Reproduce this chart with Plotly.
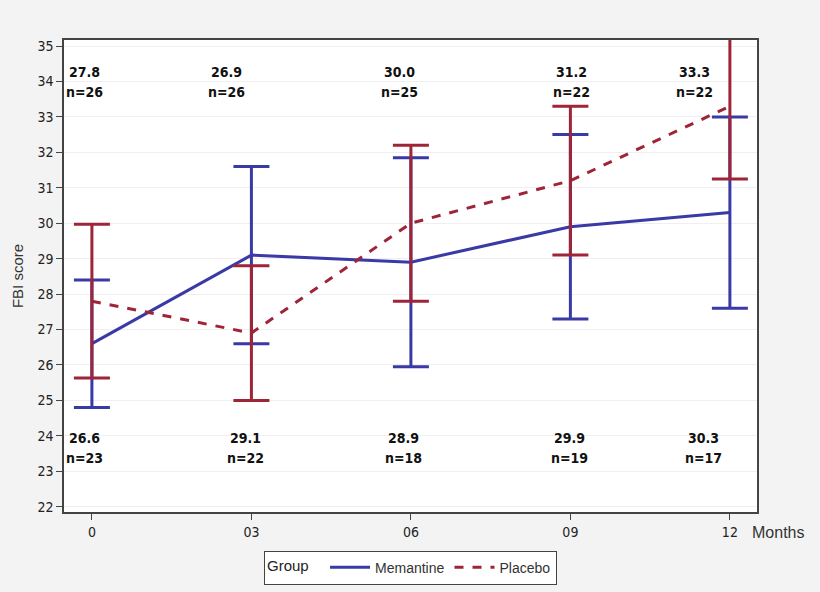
import plotly.graph_objects as go

months = ["0", "03", "06", "09", "12"]
mem_mean = [26.6, 29.1, 28.9, 29.9, 30.3]
mem_err = [1.8, 2.5, 2.95, 2.6, 2.7]
mem_n = [23, 22, 18, 19, 17]
pla_mean = [27.8, 26.9, 30.0, 31.2, 33.3]
pla_err = [2.17, 1.9, 2.2, 2.1, 2.05]
pla_n = [26, 26, 25, 22, 22]
y_ticks = list(range(22, 36))

BLUE = "#3a3aa6"
RED = "#9e2438"
xs = list(range(len(months)))

fig = go.Figure()
fig.add_trace(go.Scatter(
    x=xs, y=mem_mean, mode="lines", name="Memantine",
    line=dict(color=BLUE, width=3),
    error_y=dict(type="data", array=mem_err, color=BLUE, thickness=3, width=18),
))
fig.add_trace(go.Scatter(
    x=xs, y=pla_mean, mode="lines", name="Placebo",
    line=dict(color=RED, width=3, dash="dash"),
    error_y=dict(type="data", array=pla_err, color=RED, thickness=3, width=18),
))

ann_font = dict(family="DejaVu Sans Condensed, Liberation Sans Narrow, Arial Narrow, sans-serif",
                size=14, color="#111")
top_off = [-7, -25, -11, 1, -35]
bot_off = [-7, -6, -7, -1, -26]
annotations = []
for i in xs:
    annotations.append(dict(x=i, y=0.953, xref="x", yref="paper", text=f"<b>{pla_mean[i]:.1f}</b>",
                            showarrow=False, xshift=top_off[i], font=ann_font))
    annotations.append(dict(x=i, y=0.911, xref="x", yref="paper", text=f"<b>n={pla_n[i]}</b>",
                            showarrow=False, xshift=top_off[i], font=ann_font))
    annotations.append(dict(x=i, y=0.1356, xref="x", yref="paper", text=f"<b>{mem_mean[i]:.1f}</b>",
                            showarrow=False, xshift=bot_off[i], font=ann_font))
    annotations.append(dict(x=i, y=0.0932, xref="x", yref="paper", text=f"<b>n={mem_n[i]}</b>",
                            showarrow=False, xshift=bot_off[i], font=ann_font))
annotations.append(dict(x=1.03, y=-0.044, xref="paper", yref="paper", text="Months",
                        showarrow=False, xanchor="center", yanchor="middle",
                        font=dict(family="Liberation Sans, Arial, sans-serif", size=16, color="#333")))

tick_font = dict(family="DejaVu Sans Condensed, Liberation Sans Narrow, Arial Narrow, sans-serif",
                 size=14, color="#222")

fig.update_layout(
    width=820, height=592,
    margin=dict(l=64, r=63, t=40, b=80, autoexpand=False),
    paper_bgcolor="#f3f3f3",
    plot_bgcolor="white",
    showlegend=True,
    legend=dict(orientation="h", x=0.5, xanchor="center", xref="paper",
                y=0.07, yanchor="top", yref="container",
                title=dict(text="Group  ", side="left",
                           font=dict(family="Liberation Sans, Arial, sans-serif", size=15, color="#222")),
                bgcolor="white", bordercolor="#444", borderwidth=1,
                font=dict(family="Liberation Sans, Arial, sans-serif", size=14, color="#333"),
                itemwidth=40, tracegroupgap=0),
    annotations=annotations,
    xaxis=dict(range=[-0.175, 4.17], tickvals=xs, ticktext=months, showgrid=False,
               zeroline=False, showline=True, linecolor="#444", linewidth=1.5, mirror=True,
               ticks="outside", ticklen=6, tickcolor="#444", tickfont=tick_font),
    yaxis=dict(range=[21.85, 35.17], tickvals=y_ticks, showgrid=True, gridcolor="#efefef",
               zeroline=False, showline=True, linecolor="#444", linewidth=1.5, mirror=True,
               ticks="outside", ticklen=6, tickcolor="#444", tickfont=tick_font,
               title=dict(text="FBI score", standoff=10,
                          font=dict(family="Liberation Sans, Arial, sans-serif", size=15, color="#333"))),
)

fig.write_html("out.html", post_script="document.body.style.margin='0';",
               config={"displayModeBar": False})
